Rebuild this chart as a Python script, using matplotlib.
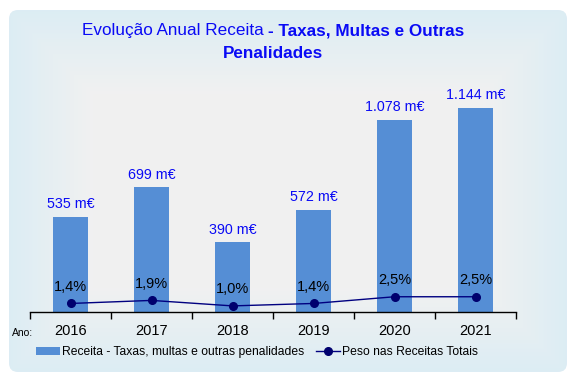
import numpy as np
import matplotlib
matplotlib.use("Agg")
import matplotlib.pyplot as plt
from matplotlib.patches import FancyBboxPatch, Patch
from matplotlib.lines import Line2D

# Data
years = ["2016", "2017", "2018", "2019", "2020", "2021"]
receita = [535, 699, 390, 572, 1078, 1144]
peso = [1.4, 1.9, 1.0, 1.4, 2.5, 2.5]
receita_labels = ["535 m€", "699 m€", "390 m€", "572 m€", "1.078 m€", "1.144 m€"]
peso_labels = ["1,4%", "1,9%", "1,0%", "1,4%", "2,5%", "2,5%"]

W, H = 571, 374
BAR = "#558ED5"
LINE = "#000080"
BLUE = "#0A0AF5"

plt.rcParams['font.family'] = ['Liberation Sans', 'DejaVu Sans']
fig = plt.figure(figsize=(W / 100, H / 100), dpi=100)
fig.patch.set_facecolor("white")

# Rounded panel with a soft edge-to-centre gradient
bg = fig.add_axes([0, 0, 1, 1], zorder=0)
bg.set_xlim(0, W)
bg.set_ylim(H, 0)
bg.axis("off")
x0, y0, x1, y1 = 9, 10, 567, 372
yy, xx = np.mgrid[0:H, 0:W] + 0.5
d = np.minimum.reduce([xx - x0, x1 - xx, yy - y0, y1 - yy])
t = np.clip(d / 85.0, 0, 1)[..., None]
edge = np.array([0.863, 0.929, 0.957])
center = np.array([0.945, 0.945, 0.945])
img = edge * (1 - t) + center * t
box = FancyBboxPatch((x0, y0), x1 - x0, y1 - y0,
                     boxstyle="round,pad=0,rounding_size=9",
                     fc="none", ec="none")
bg.add_patch(box)
im = bg.imshow(img, extent=(0, W, H, 0), interpolation="bilinear", aspect="auto")
im.set_clip_path(box)

# Main axes
ax = fig.add_axes([30 / W, (H - 312) / H, 486 / W, 242 / H], zorder=2)
ax.patch.set_alpha(0)
x = np.arange(len(years))
ax.bar(x, receita, width=0.444, color=BAR, zorder=2)
ax.set_xlim(-0.5, len(years) - 0.5)
ax.set_ylim(0, 242 * 1144 / 204)
for s in ["top", "left", "right"]:
    ax.spines[s].set_visible(False)
ax.spines["bottom"].set_linewidth(1.0)
ax.set_yticks([])
ax.set_xticks(x)
ax.set_xticklabels(years, fontsize=10.5)
ax.set_xticks(np.arange(-0.5, len(years)), minor=True)
ax.tick_params(axis="x", which="major", length=0, pad=8.5)
ax.tick_params(axis="x", which="minor", length=5, width=1, direction="out")

for xi, v, lab in zip(x, receita, receita_labels):
    ax.annotate(lab, (xi, v), xytext=(0, 4), textcoords="offset points",
                ha="center", va="bottom", color=BLUE, fontsize=10.3)

# Secondary axis for the share line
ax2 = ax.twinx()
ax2.set_ylim(0, 242 / 6.1)
ax2.axis("off")
ax2.plot(x, peso, color=LINE, lw=1.0, marker="o", ms=5.5,
         mfc="#00006E", mec="#00006E", zorder=3)
for xi, v, lab in zip(x, peso, peso_labels):
    ax2.annotate(lab, (xi, v), xytext=(0, 7), textcoords="offset points",
                 ha="center", va="bottom", color="black", fontsize=10.5)

# Title with mixed weights
r = fig.canvas.get_renderer()
cx = (30 + 516) / 2
t1 = fig.text(0, 0, "Evolução Anual Receita ", fontsize=12.3, color=BLUE, va="center")
t2 = fig.text(0, 0, "- Taxas, Multas e Outras", fontsize=12.3, color=BLUE,
              weight="bold", va="center")
w1 = t1.get_window_extent(r).width
w2 = t2.get_window_extent(r).width
start = cx - (w1 + w2) / 2
t1.set_position((start / W, 1 - 31 / H))
t2.set_position(((start + w1) / W, 1 - 31 / H))
fig.text(cx / W, 1 - 53 / H, "Penalidades", fontsize=12.3, color=BLUE,
         weight="bold", ha="center", va="center")

fig.text(12 / W, 1 - 333 / H, "Ano:", fontsize=7.5, va="center")

handles = [Patch(fc=BAR, ec="none"),
           Line2D([], [], color=LINE, lw=1.0, marker="o", ms=5.5,
                  mfc="#00006E", mec="#00006E")]
labels = ["Receita - Taxas, multas e outras penalidades", "Peso nas Receitas Totais"]
fig.legend(handles, labels, ncol=2, loc="center",
           bbox_to_anchor=(257 / W, 1 - 352 / H), frameon=False,
           fontsize=8.7, handlelength=2.0, handletextpad=0.15,
           columnspacing=1.0, borderaxespad=0)

fig.savefig("out.png", dpi=100)
